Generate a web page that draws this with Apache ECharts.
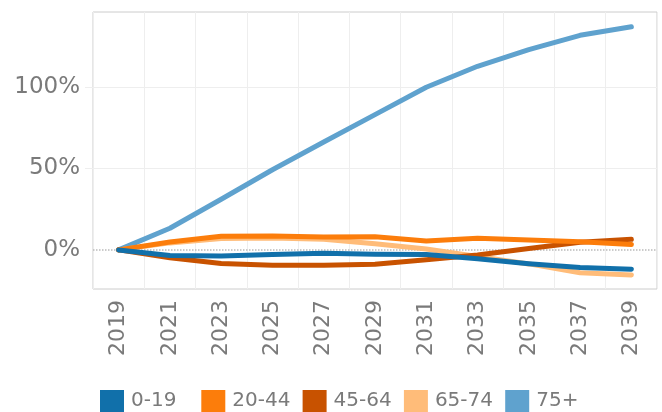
<!DOCTYPE html>
<html>
<head>
<meta charset="utf-8">
<script src="https://cdn.jsdelivr.net/npm/echarts@6/dist/echarts.min.js"></script>
<style>
html, body { margin: 0; padding: 0; background: #fff; }
#main { width: 662px; height: 412px; }
</style>
</head>
<body>
<div id="main"></div>
<script>
// 年份（每两年一个）
var years = ['2019', '2021', '2023', '2025', '2027', '2029', '2031', '2033', '2035', '2037', '2039'];
// 各年龄段相对2019年的变化 %
var age0_19 = [0, -3.5, -3.8, -2.8, -2.1, -2.7, -2.8, -5.5, -8.5, -10.8, -11.9];
var age20_44 = [0, 4.8, 8.4, 8.6, 7.9, 8.1, 5.5, 7.2, 6.1, 5.0, 3.3];
var age45_64 = [0, -4.8, -8.3, -9.4, -9.4, -8.8, -6.1, -3.1, 0.8, 4.7, 6.5];
var age65_74 = [0, 4.3, 7.0, 7.3, 6.6, 3.8, 0.5, -4.1, -8.6, -14.0, -15.4];
var age75 = [0, 13.3, 31.1, 49.2, 66.2, 83.0, 99.8, 112.7, 122.9, 131.7, 136.9];
var yLabels = [0, 50, 100];
var groups = ['0-19', '20-44', '45-64', '65-74', '75+'];

var myChart = echarts.init(document.getElementById('main'));

function lineSeries(name, data, color) {
  return {
    name: name,
    type: 'line',
    data: data,
    color: color,
    symbol: 'none',
    lineStyle: { width: 5, cap: 'round', join: 'round' }
  };
}

var s75 = lineSeries('75+', age75, '#5fa2ce');
s75.markLine = {
  silent: true,
  symbol: 'none',
  z: 1,
  label: { show: false },
  lineStyle: { type: 'dotted', color: '#bbb', width: 1.5 },
  data: [{ yAxis: 0 }]
};

// 图例每项固定宽度，一项一个legend
var legends = groups.map(function (g, i) {
  return {
    data: [g],
    left: 100 + i * 101.3,
    top: 390,
    padding: 0,
    icon: 'rect',
    itemWidth: 24,
    itemHeight: 22,
    textStyle: { fontSize: 20, color: '#7a7a7a', padding: [0, 0, 0, 2] }
  };
});

var option = {
  animation: false,
  textStyle: { fontFamily: 'DejaVu Sans' },
  grid: {
    left: 93, right: 5, top: 12, bottom: 123,
    show: true, borderColor: '#ccc', borderWidth: 1
  },
  legend: legends,
  xAxis: {
    type: 'category',
    data: years,
    boundaryGap: true,
    axisLine: { show: false },
    axisTick: { show: false },
    axisLabel: { rotate: 90, fontSize: 22, color: '#7a7a7a', margin: 11, interval: 0 },
    splitLine: { show: true, interval: 0, lineStyle: { color: '#eee', width: 1 } }
  },
  yAxis: {
    type: 'value',
    min: -24,
    max: 146,
    axisLine: { show: false },
    axisTick: { show: true, customValues: [50, 100], length: 8, lineStyle: { color: '#eee' } },
    axisLabel: { customValues: yLabels, formatter: '{value}%', fontSize: 23, color: '#7a7a7a', margin: 13 },
    splitLine: { show: true, lineStyle: { color: '#eee', width: 1 } }
  },
  // 顺序：后画的在上面
  series: [
    s75,
    lineSeries('65-74', age65_74, '#ffbc79'),
    lineSeries('45-64', age45_64, '#c85200'),
    lineSeries('20-44', age20_44, '#fc7d0b'),
    lineSeries('0-19', age0_19, '#1170aa')
  ]
};

myChart.setOption(option);
</script>
</body>
</html>
